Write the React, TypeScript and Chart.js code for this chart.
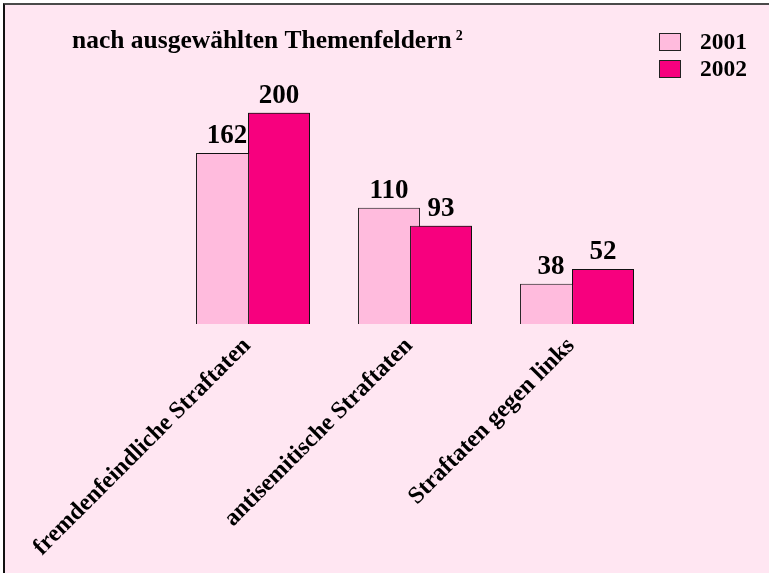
import React, { useEffect, useRef } from "react";
import { Chart, registerables } from "chart.js";

Chart.register(...registerables);

const categories = [
  "fremdenfeindliche Straftaten",
  "antisemitische Straftaten",
  "Straftaten gegen links",
];
const seriesLabels = ["2001", "2002"];
const values2001 = [162, 110, 38];
const values2002 = [200, 93, 52];
const titleText = "nach ausgewählten Themenfeldern";
const titleSup = "2";

const FONT = "'Liberation Serif', 'Times New Roman', serif";
const COLOR_2001 = "#FFBBDD";
const COLOR_2002 = "#F7007E";
const BG = "#FFE6F2";

const decorPlugin = {
  id: "decor",
  afterDatasetsDraw(chart: any) {
    // 2002 bars lie over the 2001 bars
    chart.getDatasetMeta(1).controller.draw();
    const ctx = chart.ctx;
    ctx.save();
    ctx.font = `bold 27px ${FONT}`;
    ctx.fillStyle = "#000";
    ctx.textAlign = "center";
    ctx.textBaseline = "alphabetic";
    chart.data.datasets.forEach((ds: any, i: number) => {
      const meta = chart.getDatasetMeta(i);
      meta.data.forEach((bar: any, j: number) => {
        ctx.fillText(String(ds.data[j]), bar.x, bar.y - 10);
      });
    });
    ctx.restore();
  },
  afterDraw(chart: any) {
    const ctx = chart.ctx;
    ctx.save();
    // title
    ctx.fillStyle = "#000";
    ctx.textAlign = "left";
    ctx.textBaseline = "alphabetic";
    ctx.font = `bold 25.5px ${FONT}`;
    ctx.fillText(titleText, 72, 48);
    const w = ctx.measureText(titleText).width;
    ctx.font = `bold 14px ${FONT}`;
    ctx.fillText(titleSup, 72 + w + 4, 40);
    // legend
    chart.data.datasets.forEach((ds: any, i: number) => {
      const y = 33 + i * 27;
      ctx.fillStyle = ds.backgroundColor;
      ctx.fillRect(659.5, y + 0.5, 21, 17);
      ctx.strokeStyle = "#222";
      ctx.lineWidth = 1;
      ctx.strokeRect(659.5, y + 0.5, 21, 17);
      ctx.fillStyle = "#000";
      ctx.font = `bold 23.5px ${FONT}`;
      ctx.fillText(ds.label, 700, y + 16);
    });
    ctx.restore();
  },
};

export default function App() {
  const ref = useRef<HTMLCanvasElement | null>(null);
  useEffect(() => {
    if (!ref.current) return;
    const chart = new Chart(ref.current, {
      type: "bar",
      data: {
        labels: categories,
        datasets: [
          {
            label: seriesLabels[0],
            data: values2001,
            backgroundColor: COLOR_2001,
            borderColor: "#111",
            borderWidth: 1,
          },
          {
            label: seriesLabels[1],
            data: values2002,
            backgroundColor: COLOR_2002,
            borderColor: "#111",
            borderWidth: 1,
          },
        ],
      },
      options: {
        responsive: false,
        animation: false,
        categoryPercentage: 0.642,
        barPercentage: 1.19,
        layout: { padding: { left: 172, right: 111, top: 60, bottom: 0 } },
        plugins: {
          legend: { display: false },
          title: { display: false },
          tooltip: { enabled: false },
        },
        scales: {
          x: {
            grid: { display: false },
            border: { display: false },
            ticks: {
              minRotation: 45,
              maxRotation: 45,
              color: "#000",
              padding: 0,
              labelOffset: -6,
              font: { family: FONT, size: 24, weight: "bold" },
            },
            afterFit: (s: any) => {
              s.height = 249;
            },
          },
          y: { display: false, min: 0, max: 250 },
        },
      },
      plugins: [decorPlugin],
    } as any);
    return () => chart.destroy();
  }, []);
  return (
    <div style={{ position: "fixed", left: 0, top: 0, width: 769, height: 573, background: "#fff", overflow: "hidden" }}>
      <div
        style={{
          position: "absolute",
          left: 3,
          top: 3,
          width: 780,
          height: 590,
          background: BG,
          borderTop: "2px solid #4a4a4a",
          borderLeft: "2px solid #111",
        }}
      />
      <canvas ref={ref} width={769} height={573} style={{ position: "absolute", left: 0, top: 0 }} />
    </div>
  );
}
